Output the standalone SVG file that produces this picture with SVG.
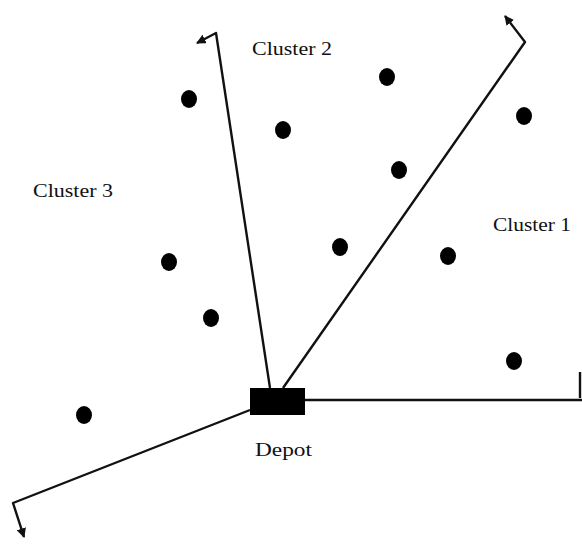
<svg xmlns="http://www.w3.org/2000/svg" width="582" height="546" viewBox="0 0 582 546">
<style>
.ln{stroke:#111;stroke-width:2.4;fill:none;stroke-linejoin:round}
.dot{fill:#000}
.lbl{font-family:"Liberation Serif","DejaVu Serif",serif;font-size:19px;fill:#111}
</style>
<defs>
<marker id="ah" viewBox="0 0 10 10" refX="9" refY="5" markerWidth="4" markerHeight="4" orient="auto" markerUnits="strokeWidth">
<path d="M0,0 L10,5 L0,10 z" fill="#111"/>
</marker>
</defs>
<rect width="582" height="546" fill="#fff"/>
<g id="connectors">
<polyline class="ln" points="270,388 216,33 197,43" marker-end="url(#ah)"/>
<polyline class="ln" points="283,388 525,42 505,16" marker-end="url(#ah)"/>
<polyline class="ln" points="305,400 582,400"/>
<line class="ln" x1="580" y1="372" x2="580" y2="398"/>
<polyline class="ln" points="250,410 13,503 24,537" marker-end="url(#ah)"/>
</g>
<g id="depot">
<rect x="250" y="388" width="55" height="27" fill="#000"/>
<text class="lbl" x="255" y="456" textLength="57" lengthAdjust="spacingAndGlyphs">Depot</text>
</g>
<g id="cluster1"><text class="lbl" x="493" y="231" textLength="78" lengthAdjust="spacingAndGlyphs">Cluster 1</text></g>
<g id="cluster2"><text class="lbl" x="252" y="55" textLength="80" lengthAdjust="spacingAndGlyphs">Cluster 2</text></g>
<g id="cluster3"><text class="lbl" x="33" y="197" textLength="80" lengthAdjust="spacingAndGlyphs">Cluster 3</text></g>
<g id="customers">
<ellipse class="dot" cx="189" cy="99" rx="8" ry="9"/>
<ellipse class="dot" cx="387" cy="77" rx="8" ry="9"/>
<ellipse class="dot" cx="283" cy="130" rx="8" ry="9"/>
<ellipse class="dot" cx="524" cy="116" rx="8" ry="9"/>
<ellipse class="dot" cx="399" cy="170" rx="8" ry="9"/>
<ellipse class="dot" cx="169" cy="262" rx="8" ry="9"/>
<ellipse class="dot" cx="340" cy="247" rx="8" ry="9"/>
<ellipse class="dot" cx="448" cy="256" rx="8" ry="9"/>
<ellipse class="dot" cx="211" cy="318" rx="8" ry="9"/>
<ellipse class="dot" cx="514" cy="361" rx="8" ry="9"/>
<ellipse class="dot" cx="84" cy="415" rx="8" ry="9"/>
</g>
</svg>
